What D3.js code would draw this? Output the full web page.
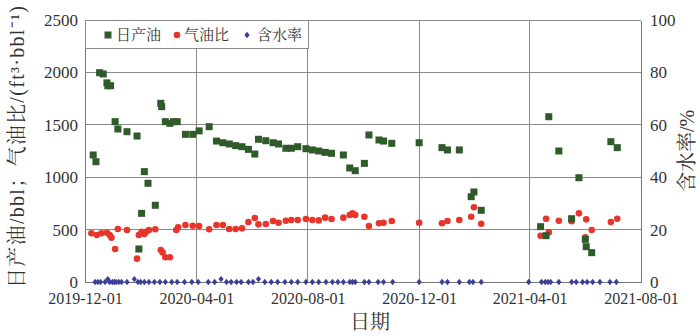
<!DOCTYPE html>
<html><head><meta charset="utf-8">
<script src="https://cdn.jsdelivr.net/npm/d3@7"></script>
<style>body{margin:0;background:#fff} svg{display:block}</style>
</head><body><svg id="c" width="700" height="336"></svg>
<script>
// ---------- data ----------
const oilDates = ["2019-12-10","2019-12-13","2019-12-17","2019-12-21","2019-12-25","2019-12-26","2019-12-29","2020-01-03","2020-01-06","2020-01-16","2020-01-27","2020-01-29","2020-02-01","2020-02-04","2020-02-08","2020-02-16","2020-02-22","2020-02-23","2020-02-27","2020-03-03","2020-03-07","2020-03-11","2020-03-20","2020-03-28","2020-04-04","2020-04-15","2020-04-23","2020-04-30","2020-05-07","2020-05-14","2020-05-21","2020-05-28","2020-06-04","2020-06-08","2020-06-16","2020-06-24","2020-06-30","2020-07-08","2020-07-14","2020-07-21","2020-07-30","2020-08-06","2020-08-13","2020-08-20","2020-08-27","2020-09-09","2020-09-16","2020-09-22","2020-10-02","2020-10-07","2020-10-18","2020-10-23","2020-11-01","2020-12-01","2020-12-26","2021-01-01","2021-01-14","2021-01-27","2021-01-30","2021-02-07","2021-04-13","2021-04-19","2021-04-22","2021-05-03","2021-05-17","2021-05-25","2021-06-01","2021-06-02","2021-06-08","2021-06-29","2021-07-06"];
const oilValues = [1212,1148,1997,1985,1900,1873,1873,1530,1460,1434,1393,315,655,1053,942,732,1705,1673,1530,1514,1530,1530,1409,1409,1442,1482,1345,1329,1317,1301,1291,1266,1221,1362,1348,1329,1317,1276,1276,1291,1272,1260,1250,1237,1228,1212,1088,1062,1132,1403,1355,1345,1323,1329,1282,1260,1260,814,859,684,528,442,1577,1250,604,995,407,337,280,1339,1282];

const gorDates = ["2019-12-08","2019-12-14","2019-12-19","2019-12-25","2019-12-28","2019-12-30","2020-01-03","2020-01-06","2020-01-16","2020-01-27","2020-01-29","2020-02-01","2020-02-04","2020-02-06","2020-02-09","2020-02-16","2020-02-22","2020-02-24","2020-02-27","2020-03-03","2020-03-10","2020-03-12","2020-03-20","2020-03-28","2020-04-04","2020-04-15","2020-04-23","2020-04-30","2020-05-07","2020-05-14","2020-05-21","2020-05-28","2020-06-04","2020-06-08","2020-06-16","2020-06-24","2020-06-30","2020-07-08","2020-07-14","2020-07-21","2020-07-30","2020-08-06","2020-08-13","2020-08-20","2020-08-27","2020-09-09","2020-09-16","2020-09-19","2020-09-22","2020-10-02","2020-10-07","2020-10-18","2020-10-23","2020-11-01","2020-12-01","2020-12-26","2021-01-01","2021-01-14","2021-01-27","2021-01-30","2021-02-07","2021-04-13","2021-04-19","2021-04-22","2021-05-03","2021-05-17","2021-05-25","2021-06-01","2021-06-02","2021-06-08","2021-06-29","2021-07-06"];
const gorValues = [465,448,465,470,448,423,315,506,496,223,448,480,458,480,496,503,305,283,236,236,496,522,544,537,535,503,544,544,506,506,512,573,611,550,553,582,566,585,592,592,601,592,588,614,601,614,639,655,639,623,534,560,566,582,566,560,582,592,623,713,556,442,604,474,585,579,655,426,598,496,573,604];

const waterDates = ["2019-12-12","2019-12-15","2019-12-18","2019-12-23","2019-12-26","2019-12-28","2019-12-31","2020-01-02","2020-01-04","2020-01-07","2020-01-10","2020-01-16","2020-01-24","2020-01-28","2020-01-31","2020-02-04","2020-02-09","2020-02-15","2020-02-21","2020-02-27","2020-03-05","2020-03-11","2020-03-19","2020-03-27","2020-04-03","2020-04-14","2020-04-21","2020-04-28","2020-05-04","2020-05-09","2020-05-15","2020-05-20","2020-05-28","2020-06-02","2020-06-08","2020-06-15","2020-06-22","2020-06-29","2020-07-07","2020-07-14","2020-07-21","2020-07-30","2020-08-06","2020-08-13","2020-08-21","2020-08-28","2020-09-03","2020-09-09","2020-09-16","2020-09-19","2020-09-22","2020-10-02","2020-10-07","2020-10-17","2020-10-23","2020-11-02","2020-12-01","2020-12-26","2021-01-01","2021-01-14","2021-01-25","2021-01-29","2021-02-07","2021-03-31","2021-04-14","2021-04-18","2021-04-21","2021-04-24","2021-05-03","2021-05-17","2021-05-22","2021-05-29","2021-06-03","2021-06-09","2021-06-17","2021-06-28","2021-07-05"];
const waterValues = [0,0,0,0,1.1,0,0,0,0,0,0,0,1.1,0,0,0,0,0,0,0,0,0,0,0,0,0,0,1.1,0,0,0,0,0,0,1.1,0,0,0,0,0,0,0,0,0,0,0,0,0,0,0,0,0,0,0,0,0,0,0,0,0,0,0,0,0,0,0,0,0,0,0,0,0,0,0,0,0,0];

const xTicks = ["2019-12-01","2020-04-01","2020-08-01","2020-12-01","2021-04-01","2021-08-01"];
const leftTicks = [0,500,1000,1500,2000,2500];
const rightTicks = [0,20,40,60,80,100];
const seriesNames = ["日产油","气油比","含水率"];
const leftTitle = "日产油/bbl；气油比/(ft³·bbl⁻¹)";
const rightTitle = "含水率/%";
const xTitle = "日期";

// ---------- chart ----------
const parse = d3.timeParse("%Y-%m-%d");
const fmt = d3.timeFormat("%Y-%m-%d");
const L = 85, R = 641, T = 20, B = 282;
const x = d3.scaleTime().domain([parse(xTicks[0]), parse(xTicks[xTicks.length-1])]).range([L, R]);
const yL = d3.scaleLinear().domain([0, 2500]).range([B, T]);
const yR = d3.scaleLinear().domain([0, 100]).range([B, T]);

const svg = d3.select("#c");
const FONT = '"Liberation Serif","Noto Serif CJK SC",serif';
const GRID = "#8a8a8a";
const TXT = "#333";
const GREEN = "#2f5a29", RED = "#e8352b", BLUE = "#3b3f98";

// horizontal grid
svg.append("g").selectAll("line").data(leftTicks.filter(v => v > 0 && v < 2500)).join("line")
  .attr("x1", L).attr("x2", R).attr("y1", d => yL(d)).attr("y2", d => yL(d))
  .attr("stroke", GRID).attr("stroke-width", 1).attr("shape-rendering", "crispEdges");
// vertical grid
svg.append("g").selectAll("line").data(xTicks.slice(1, -1).map(parse)).join("line")
  .attr("x1", d => x(d)).attr("x2", d => x(d)).attr("y1", T).attr("y2", B)
  .attr("stroke", GRID).attr("stroke-width", 1).attr("shape-rendering", "crispEdges");

// frame (top)
svg.append("line").attr("x1", L).attr("x2", R).attr("y1", T).attr("y2", T)
  .attr("stroke", GRID).attr("shape-rendering", "crispEdges");

// axes
const axB = svg.append("g").attr("transform", `translate(0,${B})`)
  .call(d3.axisBottom(x).tickValues(xTicks.map(parse)).tickFormat(fmt).tickSize(0).tickPadding(11));
const axL = svg.append("g").attr("transform", `translate(${L},0)`)
  .call(d3.axisLeft(yL).tickValues(leftTicks).tickFormat(d3.format("d")).tickSize(0).tickPadding(7));
const axR = svg.append("g").attr("transform", `translate(${R},0)`)
  .call(d3.axisRight(yR).tickValues(rightTicks).tickFormat(d3.format("d")).tickSize(0).tickPadding(9));
[axB, axL, axR].forEach(a => {
  a.attr("font-family", null).attr("font-size", null);
  a.select(".domain").attr("stroke", "#777").attr("shape-rendering", "crispEdges");
  a.selectAll("text").style("font-family", FONT).attr("fill", TXT);
});
axB.selectAll("text").style("font-size", "16px");
axL.selectAll("text").style("font-size", "17px");
axR.selectAll("text").style("font-size", "17px");

// legend box
const lg = svg.append("g");
lg.append("rect").attr("x", L).attr("y", T).attr("width", 223).attr("height", 28)
  .attr("fill", "#fff").attr("stroke", GRID).attr("shape-rendering", "crispEdges");
const ly = 35;
lg.append("rect").attr("x", 104.5).attr("y", ly - 3.5).attr("width", 7).attr("height", 7).attr("fill", GREEN);
lg.append("circle").attr("cx", 177).attr("cy", ly).attr("r", 3.3).attr("fill", RED);
lg.append("path").attr("d", "M0,-3.2L2.6,0L0,3.2L-2.6,0Z").attr("transform", `translate(247,${ly})`).attr("fill", BLUE);
const lx = [116, 184, 257];
seriesNames.forEach((n, i) => {
  lg.append("text").attr("x", lx[i]).attr("y", ly).attr("dy", "0.36em")
    .style("font-family", FONT).style("font-size", "15px").attr("fill", TXT).text(n);
});

// data marks
svg.append("g").selectAll("circle").data(gorDates.map((d, i) => ({d: parse(d), v: gorValues[i]}))).join("circle")
  .attr("cx", p => x(p.d)).attr("cy", p => yL(p.v)).attr("r", 3.3).attr("fill", RED);
svg.append("g").selectAll("rect").data(oilDates.map((d, i) => ({d: parse(d), v: oilValues[i]}))).join("rect")
  .attr("x", p => x(p.d) - 3.5).attr("y", p => yL(p.v) - 3.5).attr("width", 7).attr("height", 7).attr("fill", GREEN);
svg.append("g").selectAll("path").data(waterDates.map((d, i) => ({d: parse(d), v: waterValues[i]}))).join("path")
  .attr("d", "M0,-3.2L2.6,0L0,3.2L-2.6,0Z")
  .attr("transform", p => `translate(${x(p.d)},${yR(p.v)})`).attr("fill", BLUE);

// titles
svg.append("text").attr("transform", "translate(17,147) rotate(-90)").attr("text-anchor", "middle")
  .attr("dy", "0.36em").attr("textLength", 282).attr("lengthAdjust", "spacing")
  .style("font-family", FONT).style("font-size", "20px").attr("fill", TXT).text(leftTitle);
svg.append("text").attr("transform", "translate(687,151) rotate(-90)").attr("text-anchor", "middle")
  .attr("dy", "0.36em").style("font-family", FONT).style("font-size", "20px").attr("fill", TXT).text(rightTitle);
svg.append("text").attr("x", 370).attr("y", 322).attr("text-anchor", "middle").attr("dy", "0.36em")
  .style("font-family", FONT).style("font-size", "20px").attr("fill", TXT).text(xTitle);
</script></body></html>
